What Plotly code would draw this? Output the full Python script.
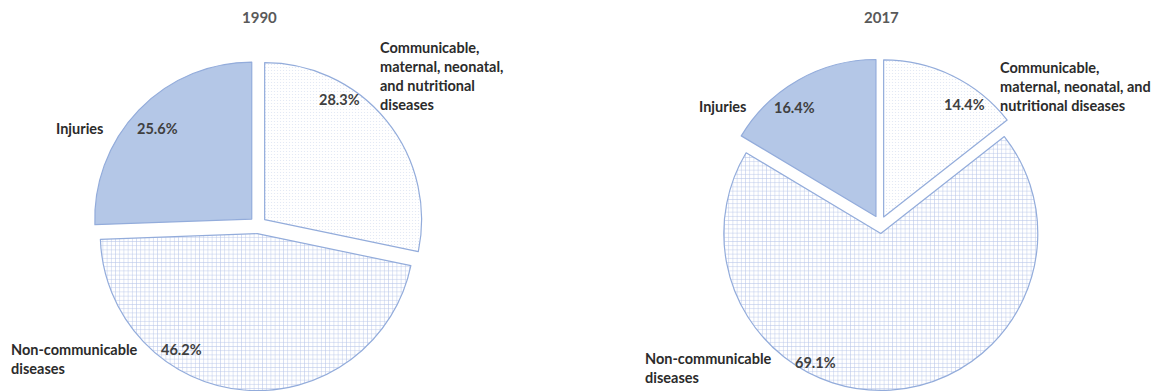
import plotly.graph_objects as go

# Burden of disease by cause group (% of total)
years = ["1990", "2017"]
causes = ["Communicable, maternal, neonatal, and nutritional diseases",
          "Non-communicable diseases",
          "Injuries"]
share_1990 = [28.3, 46.2, 25.6]
share_2017 = [14.4, 69.1, 16.4]

# wrapped cause names as they are printed beside each pie
labels_1990 = ["Communicable,<br>maternal, neonatal,<br>and nutritional<br>diseases",
               "Non-communicable<br>diseases",
               "Injuries"]
labels_2017 = ["Communicable,<br>maternal, neonatal, and<br>nutritional diseases",
               "Non-communicable<br>diseases",
               "Injuries"]

W, H = 1162, 391
FONT = "Lato"
TXT = "#2b2b2b"
PCT = "#404040"
EDGE = "#93ACDB"
BLUE = "#B4C7E7"


def px(x, y):
    return x / W, 1 - y / H


def pie(values, dom_x, dom_y, pulls):
    return go.Pie(
        labels=causes,
        values=values,
        sort=False,
        direction="clockwise",
        rotation=0,
        pull=pulls,
        textinfo="none",
        hoverinfo="label+value",
        showlegend=False,
        domain=dict(x=dom_x, y=dom_y),
        marker=dict(
            colors=["white", "white", BLUE],
            line=dict(color=EDGE, width=1.2),
            pattern=dict(
                shape=[".", "+", ""],
                fgcolor=["#DCE3F3", "#B9C7E8", BLUE],
                bgcolor=["white", "white", BLUE],
                size=[3, 4.2, 4],
                solidity=[0.1, 0.22, 0.2],
                fillmode="replace",
            ),
        ),
    )


fig = go.Figure()
fig.add_trace(pie(share_1990, [0.0795, 0.3645], [0.001, 0.848], [0.055, 0.055, 0.055]))
fig.add_trace(pie(share_2017, [0.6143, 0.9007], [0.0015, 0.8527], [0.05, 0.06, 0.055]))

ann = []


def add_text(text, x, y, xanchor="center", color=TXT, size=14.5):
    ax, ay = px(x, y)
    ann.append(dict(text=text, x=ax, y=ay, xref="paper", yref="paper",
                    xanchor=xanchor, yanchor="middle", showarrow=False,
                    align="left", font=dict(family=FONT, size=size, color=color,
                                            weight="bold")))


# titles
add_text(years[0], 259, 17, color="#595959", size=15)
add_text(years[1], 881, 17, color="#595959", size=15)

# 1990 labels
add_text(labels_1990[0], 378, 76.5, xanchor="left")
add_text(labels_1990[1], 9, 358.5, xanchor="left")
add_text(labels_1990[2], 54, 128, xanchor="left")
add_text(f"{share_1990[0]:.1f}%", 339, 100, color=PCT)
add_text(f"{share_1990[1]:.1f}%", 181, 349, color=PCT)
add_text(f"{share_1990[2]:.1f}%", 157.5, 128, color=PCT)

# 2017 labels
add_text(labels_2017[0], 998, 87, xanchor="left")
add_text(labels_2017[1], 643, 367.5, xanchor="left")
add_text(labels_2017[2], 697, 107, xanchor="left")
add_text(f"{share_2017[0]:.1f}%", 964, 104, color=PCT)
add_text(f"{share_2017[1]:.1f}%", 815, 362, color=PCT)
add_text(f"{share_2017[2]:.1f}%", 794, 108, color=PCT)

fig.update_layout(
    width=W, height=H,
    margin=dict(l=0, r=0, t=0, b=0),
    paper_bgcolor="white",
    plot_bgcolor="white",
    annotations=ann,
)

fig.write_html("out.html")
